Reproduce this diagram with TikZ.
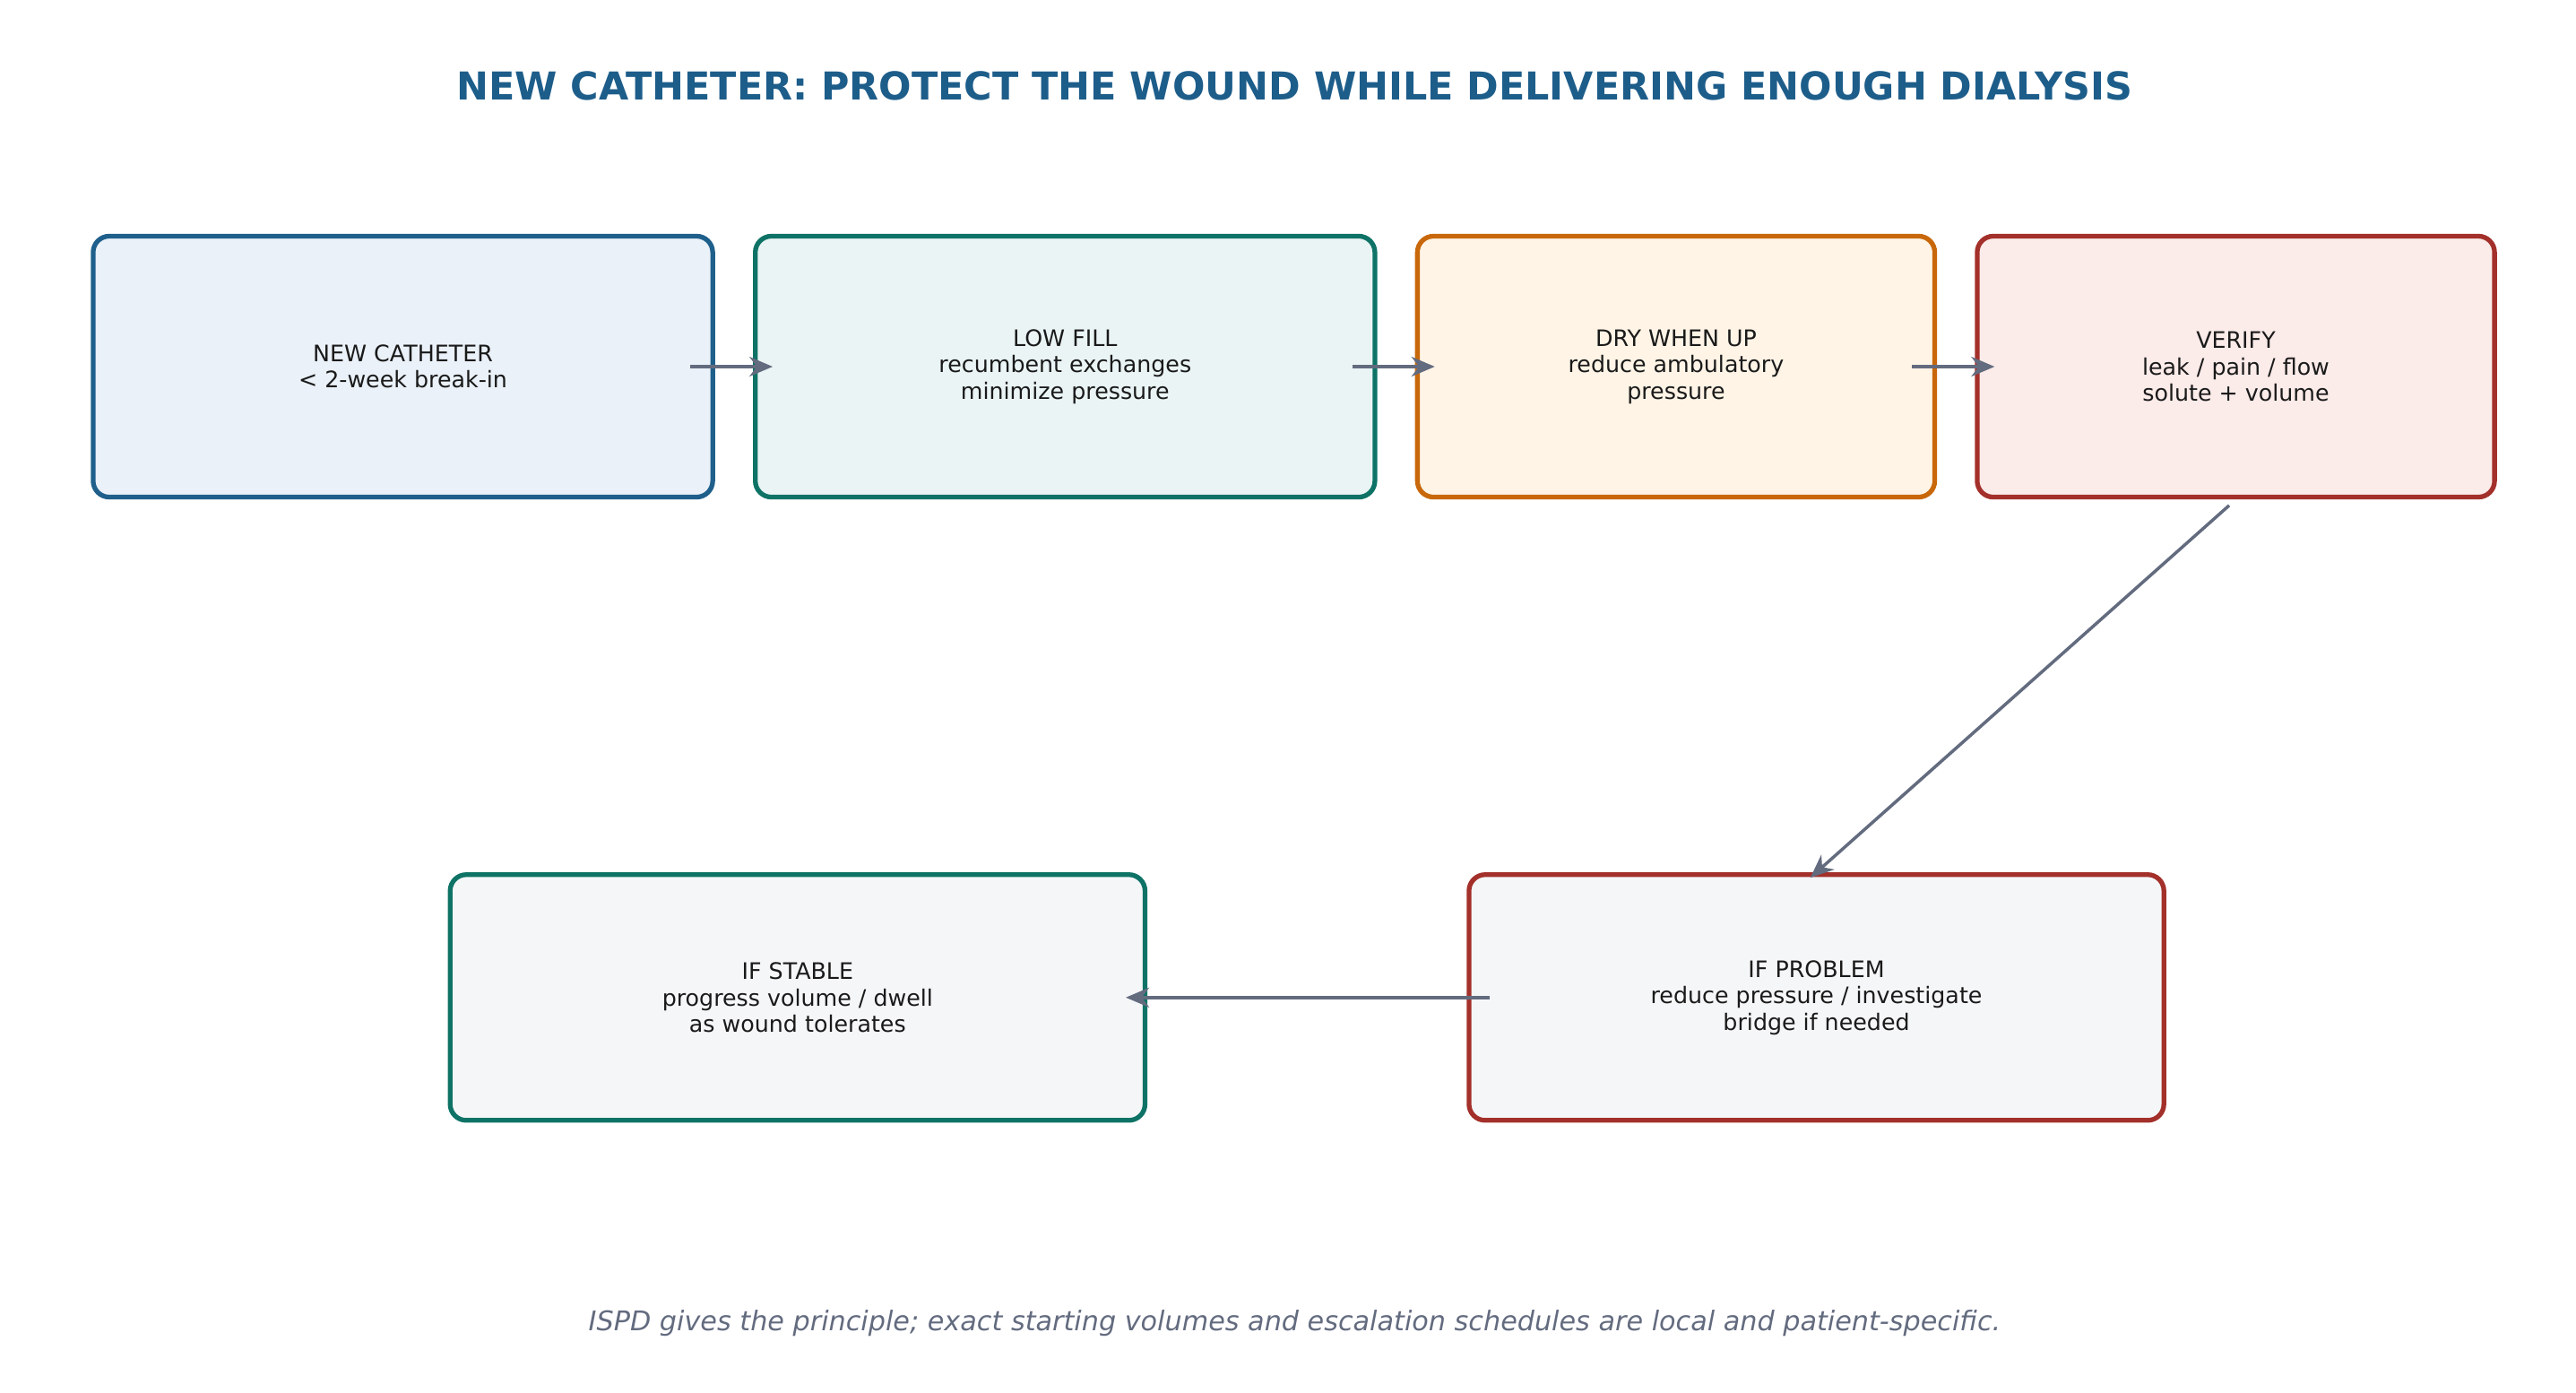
\documentclass[tikz,border=0pt]{standalone}
\usepackage{fontspec}
\setmainfont{DejaVu Sans}
\usetikzlibrary{arrows.meta}
\definecolor{cblue}{HTML}{1F5F8B}
\definecolor{fblue}{HTML}{EAF1F8}
\definecolor{cteal}{HTML}{0E7366}
\definecolor{fteal}{HTML}{EAF4F4}
\definecolor{corange}{HTML}{C8680A}
\definecolor{forange}{HTML}{FFF4E6}
\definecolor{cred}{HTML}{A3302A}
\definecolor{fred}{HTML}{FBEBE9}
\definecolor{fgray}{HTML}{F5F6F8}
\definecolor{carrow}{HTML}{636B7F}
\definecolor{ctitle}{HTML}{1D5D8A}
\definecolor{ctext}{HTML}{1A1A1A}
\tikzset{
  stage/.style={draw, line width=1.5pt, rounded corners=0.18cm, align=center,
    font=\fontsize{7.2}{8.4}\selectfont, text=ctext, inner sep=0pt},
  flow/.style={draw=carrow, line width=1pt, -{Stealth[length=0.26cm,width=0.22cm]}}
}
\begin{document}
\begin{tikzpicture}[x=0.01842cm, y=-0.01842cm]
  \useasboundingbox (0,0) rectangle (1560,843);

  \node[font=\bfseries\fontsize{12.2}{14}\selectfont, text=ctitle] (title) at (784,52) {NEW CATHETER: PROTECT THE WOUND WHILE DELIVERING ENOUGH DIALYSIS};

  \node[stage, draw=cblue, fill=fblue, minimum width=6.91cm, minimum height=2.91cm] (catheter) at (244,222) {NEW CATHETER\\< 2-week break-in};
  \node[stage, draw=cteal, fill=fteal, minimum width=6.91cm, minimum height=2.91cm] (lowfill) at (645,222) {LOW FILL\\recumbent exchanges\\minimize pressure};
  \node[stage, draw=corange, fill=forange, minimum width=5.77cm, minimum height=2.91cm] (dry) at (1015,222) {DRY WHEN UP\\reduce ambulatory\\pressure};
  \node[stage, draw=cred, fill=fred, minimum width=5.77cm, minimum height=2.91cm] (verify) at (1354,222) {VERIFY\\leak / pain / flow\\solute + volume};

  \node[stage, draw=cteal, fill=fgray, minimum width=7.75cm, minimum height=2.74cm] (stable) at (483,604) {IF STABLE\\progress volume / dwell\\as wound tolerates};
  \node[stage, draw=cred, fill=fgray, minimum width=7.75cm, minimum height=2.74cm] (problem) at (1100,604) {IF PROBLEM\\reduce pressure / investigate\\bridge if needed};

  \node[font=\itshape\fontsize{8.6}{10}\selectfont, text=carrow] (note) at (784,801) {ISPD gives the principle; exact starting volumes and escalation schedules are local and patient-specific.};

  \draw[flow, shorten <=-0.28cm, shorten >=-0.22cm] (catheter) -- (lowfill);
  \draw[flow, shorten <=-0.28cm, shorten >=-0.22cm] (lowfill) -- (dry);
  \draw[flow, shorten <=-0.28cm, shorten >=-0.22cm] (dry) -- (verify);
  \draw[flow, shorten <=0.1cm, shorten >=-0.09cm] (verify.south) -- (problem.north);
  \draw[flow, shorten <=-0.26cm, shorten >=-0.24cm] (problem) -- (stable);
\end{tikzpicture}
\end{document}
